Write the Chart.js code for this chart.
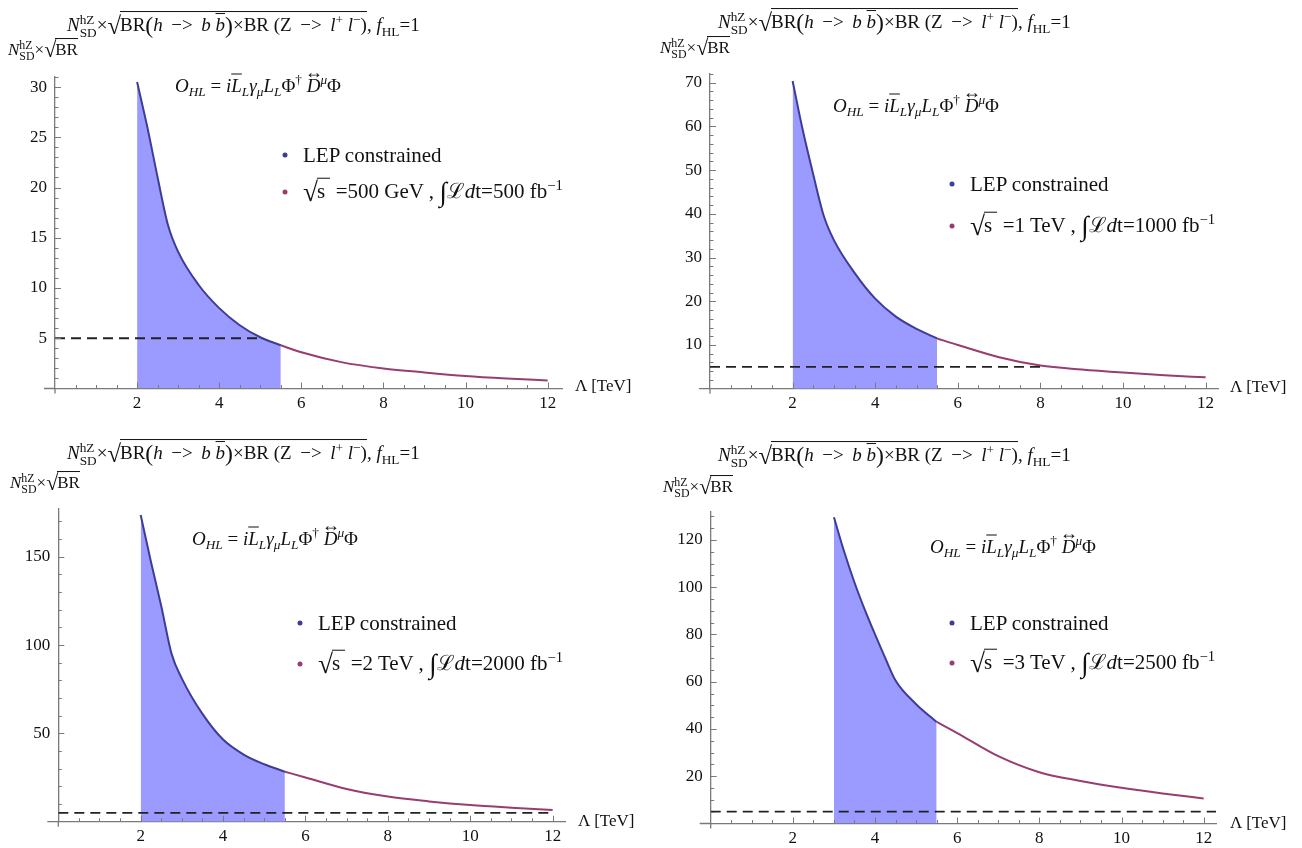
<!DOCTYPE html>
<html>
<head>
<meta charset="utf-8">
<script src="https://cdn.jsdelivr.net/npm/chart.js@4.4.1/dist/chart.umd.min.js"></script>
<style>
  body { margin: 0; background: #fff; width: 1302px; height: 848px; position: relative; overflow: hidden;
         font-family: 'Liberation Serif', 'DejaVu Serif', serif; color: #111; }
  .box { position: absolute; width: 651px; height: 424px; }
  .txt { position: absolute; white-space: nowrap; line-height: 1; transform: translateY(-50%); }
  .title { font-size: 19px; }
  .ylab { font-size: 17px; }
  .form { font-size: 19px; }
  .leg { font-size: 21px; }
  .lam { font-size: 17px; }
  .ss { display: inline-block; vertical-align: -0.42em; font-size: 0.7em; line-height: 0.92em; }
  .ss span { display: block; }
  .rad { display: inline-block; font-size: 1.3em; vertical-align: -0.1em; }
  .ov { display: inline-block; border-top: 1.3px solid #111; padding-top: 2px; margin-left: -1px; }
  .big { display: inline-block; font-size: 1.25em; vertical-align: -0.08em; }
  .bar { text-decoration: overline; }
  .darr { display: inline-block; position: relative; }
  .darr .arr { position: absolute; left: -2px; top: -0.72em; font-size: 0.95em; font-style: normal; }
  sup, sub { font-size: 0.7em; line-height: 0; }
  .dot { position: absolute; width: 5px; height: 5px; border-radius: 50%; transform: translate(-50%, -50%); }
  .int { font-size: 1.3em; vertical-align: -0.12em; }
</style>
</head>
<body>
<div class="box" style="left:0;top:0"><canvas id="c1"></canvas></div>
<div class="box" style="left:651px;top:0"><canvas id="c2"></canvas></div>
<div class="box" style="left:0;top:424px"><canvas id="c3"></canvas></div>
<div class="box" style="left:651px;top:424px"><canvas id="c4"></canvas></div>
<script>
// --- values ---
const xTicks = [2, 4, 6, 8, 10, 12];
const yTicks1 = [5, 10, 15, 20, 25, 30];
const yTicks2 = [10, 20, 30, 40, 50, 60, 70];
const yTicks3 = [50, 100, 150];
const yTicks4 = [20, 40, 60, 80, 100, 120];

// 500 GeV, 500 fb-1
const lamLep1 = [2, 2.25, 2.5, 2.75, 3, 3.5, 4, 4.5, 5, 5.5];
const lep1 = [30.5, 26, 21, 16.3, 13.6, 10.3, 8.0, 6.3, 5.1, 4.3];
const lamRun1 = [5.5, 6, 7, 8, 9, 10, 11, 12];
const run1 = [4.3, 3.6, 2.6, 2.0, 1.6, 1.25, 1.0, 0.8];

// 1 TeV, 1000 fb-1
const lamLep2 = [2, 2.25, 2.5, 2.75, 3, 3.5, 4, 4.5, 5, 5.5];
const lep2 = [70.4, 59, 49, 39.7, 34, 26.5, 20.6, 16.5, 13.7, 11.5];
const lamRun2 = [5.5, 6, 7, 8, 9, 10, 11, 12];
const run2 = [11.5, 10.0, 7.2, 5.3, 4.4, 3.7, 3.1, 2.6];

// 2 TeV, 2000 fb-1
const lamLep3 = [2, 2.25, 2.5, 2.75, 3, 3.5, 4, 4.5, 5, 5.5];
const lep3 = [173.6, 147, 122, 95, 81, 61, 46.5, 38, 32.5, 28.3];
const lamRun3 = [5.5, 6, 7, 8, 9, 10, 11, 12];
const run3 = [28.3, 25, 18.5, 14.2, 11.5, 9.4, 7.9, 6.6];

// 3 TeV, 2500 fb-1
const lamLep4 = [3, 3.25, 3.5, 3.75, 4, 4.25, 4.5, 5, 5.5];
const lep4 = [129.6, 115, 102, 90.5, 80, 70, 60.5, 50.5, 43];
const lamRun4 = [5.5, 6, 7, 8, 9, 10, 11, 12];
const run4 = [43, 38.3, 28.5, 21.7, 18, 15.1, 12.7, 10.6];

const dashLevel = 5;
const dashEnds = [5.07, 8.1, 12, 12.3];
const energies = ['500 GeV', '1 TeV', '2 TeV', '3 TeV'];
const lumis = ['500', '1000', '2000', '2500'];

// --- styling / layout ---
const BLUE = '#3d3d99', RED = '#993d71', FILL = '#9a9aff', AX = '#7a7a7a';
const W = 651, H = 424, YW = 40, XH = 28;

const panels = [
  { id: 'c1', ox: 0,   oy: 0,   l: 55,    r: 562,  t: 77,   b: 388.5, xMax: 12.35, yMax: 31,  yTicks: yTicks1, yMinor: 1,
    lamLep: lamLep1, lep: lep1, lamRun: lamRun1, run: run1 },
  { id: 'c2', ox: 651, oy: 0,   l: 710,   r: 1218, t: 74,   b: 388.7, xMax: 12.3,  yMax: 72,  yTicks: yTicks2, yMinor: 2,
    lamLep: lamLep2, lep: lep2, lamRun: lamRun2, run: run2 },
  { id: 'c3', ox: 0,   oy: 424, l: 58.3,  r: 565,  t: 509,  b: 821.7, xMax: 12.3,  yMax: 177, yTicks: yTicks3, yMinor: 10,
    lamLep: lamLep3, lep: lep3, lamRun: lamRun3, run: run3 },
  { id: 'c4', ox: 651, oy: 424, l: 710.7, r: 1216, t: 511.6, b: 823.5, xMax: 12.3, yMax: 132, yTicks: yTicks4, yMinor: 5,
    lamLep: lamLep4, lep: lep4, lamRun: lamRun4, run: run4 }
];

const textPos = [
  { title: [67, 25],  ylab: [8, 50],   form: [175, 85],  leg: [285, 155, 192], lam: [575, 385] },
  { title: [718, 22], ylab: [660, 48], form: [833, 105], leg: [952, 184, 226], lam: [1230, 386] },
  { title: [67, 453], ylab: [10, 483], form: [192, 538], leg: [300, 623, 664], lam: [578, 820] },
  { title: [718, 455], ylab: [663, 487], form: [930, 546], leg: [952, 623, 663], lam: [1230, 822] }
];

Chart.defaults.font.family = "'Liberation Serif', serif";
Chart.defaults.font.size = 17;
Chart.defaults.color = '#111';

// Mathematica-style axes: ticks pointing inward, axes poking out a little past the origin
const mmaTicks = {
  id: 'mmaTicks',
  afterDraw(chart, args, opts) {
    const { ctx, scales: { x, y }, chartArea: a } = chart;
    ctx.save();
    ctx.strokeStyle = AX;
    ctx.lineWidth = 1.3;
    ctx.beginPath();
    ctx.moveTo(a.left - 11, a.bottom); ctx.lineTo(a.left, a.bottom);
    ctx.moveTo(a.left, a.bottom); ctx.lineTo(a.left, a.bottom + 5);
    ctx.stroke();
    ctx.lineWidth = 1;
    for (let i = 1; i * 0.5 <= 12.001; i++) {
      const v = i * 0.5, px = Math.round(x.getPixelForValue(v)) + 0.5;
      const len = (i % 4 === 0) ? 6 : 3.5;
      ctx.beginPath(); ctx.moveTo(px, a.bottom); ctx.lineTo(px, a.bottom - len); ctx.stroke();
    }
    for (let i = 1; i * opts.yMinor <= y.max; i++) {
      const v = i * opts.yMinor, py = Math.round(y.getPixelForValue(v)) + 0.5;
      const len = opts.yTicks.includes(v) ? 6 : 3.5;
      ctx.beginPath(); ctx.moveTo(a.left, py); ctx.lineTo(a.left + len, py); ctx.stroke();
    }
    ctx.restore();
  }
};

const toPts = (xs, ys) => xs.map((x, i) => ({ x, y: ys[i] }));

panels.forEach((p, k) => {
  const ctx = document.getElementById(p.id).getContext('2d');
  const l = p.l - p.ox, r = p.r - p.ox, t = p.t - p.oy, b = p.b - p.oy;
  new Chart(ctx, {
    type: 'line',
    data: {
      datasets: [
        { data: [{ x: 0, y: dashLevel }, { x: dashEnds[k], y: dashLevel }], borderColor: '#222',
          borderWidth: 1.8, borderDash: [10, 6], fill: false, order: 0 },
        { data: toPts(p.lamRun, p.run), borderColor: RED, borderWidth: 2, fill: false,
          cubicInterpolationMode: 'monotone', order: 1 },
        { data: toPts(p.lamLep, p.lep), borderColor: BLUE, borderWidth: 2, fill: 'origin',
          backgroundColor: FILL, cubicInterpolationMode: 'monotone', order: 2 }
      ]
    },
    options: {
      responsive: true, maintainAspectRatio: false, animation: false,
      layout: { padding: { left: l - YW, right: W - r, top: t, bottom: H - b - XH } },
      elements: { point: { radius: 0 } },
      plugins: {
        legend: { display: false }, tooltip: { enabled: false },
        mmaTicks: { yMinor: p.yMinor, yTicks: p.yTicks }
      },
      scales: {
        x: {
          type: 'linear', min: 0, max: p.xMax,
          afterFit: s => { s.height = XH; },
          afterBuildTicks: s => { s.ticks = xTicks.map(v => ({ value: v })); },
          grid: { display: false, drawTicks: false },
          border: { display: true, color: AX, width: 1.3 },
          ticks: { padding: 5, maxRotation: 0 }
        },
        y: {
          type: 'linear', min: 0, max: p.yMax,
          afterFit: s => { s.width = YW; },
          afterBuildTicks: s => { s.ticks = p.yTicks.map(v => ({ value: v })); },
          grid: { display: false, drawTicks: false },
          border: { display: true, color: AX, width: 1.3 },
          ticks: { padding: 8 }
        }
      }
    },
    plugins: [mmaTicks]
  });
});

// --- text overlays ---
const nsd = '<i>N</i><span class="ss"><span>hZ</span><span>SD</span></span>';
const titleHtml = nsd + '×<span class="rad">√</span><span class="ov">BR<span class="big">(</span><i>h</i>&thinsp; −&gt; &thinsp;<i>b</i> <i class="bar">b</i><span class="big">)</span>×BR (Z&thinsp; −&gt; &thinsp;<i>l</i><sup>+</sup> <i>l</i><sup>−</sup>)</span>, <i>f</i><sub>HL</sub>=1';
const ylabHtml = nsd + '×<span class="rad">√</span><span class="ov">BR</span>';
const formHtml = '<i>O</i><sub><i>HL</i></sub> = <i>i</i><i class="bar">L</i><sub><i>L</i></sub><i>γ</i><sub><i>μ</i></sub><i>L</i><sub><i>L</i></sub>Φ<sup>†</sup> <span class="darr"><span class="arr">↔</span><i>D</i></span><sup><i>μ</i></sup>Φ';

function addText(cls, x, y, html) {
  const d = document.createElement('div');
  d.className = 'txt ' + cls;
  d.style.left = x + 'px';
  d.style.top = y + 'px';
  d.innerHTML = html;
  document.body.appendChild(d);
}
function addDot(x, y, color) {
  const d = document.createElement('div');
  d.className = 'dot';
  d.style.left = x + 'px';
  d.style.top = y + 'px';
  d.style.background = color;
  document.body.appendChild(d);
}

textPos.forEach((tp, k) => {
  addText('title', tp.title[0], tp.title[1], titleHtml);
  addText('ylab', tp.ylab[0], tp.ylab[1], ylabHtml);
  addText('form', tp.form[0], tp.form[1], formHtml);
  addDot(tp.leg[0], tp.leg[1], BLUE);
  addDot(tp.leg[0], tp.leg[2], RED);
  addText('leg', tp.leg[0] + 18, tp.leg[1], 'LEP constrained');
  addText('leg', tp.leg[0] + 18, tp.leg[2],
    '<span class="rad">√</span><span class="ov">s&nbsp;</span> =' + energies[k] +
    ' , <span class="int">∫</span>ℒ<i>d</i>t=' + lumis[k] + ' fb<sup>−1</sup>');
  addText('lam', tp.lam[0], tp.lam[1], 'Λ [TeV]');
});
</script>
</body>
</html>
